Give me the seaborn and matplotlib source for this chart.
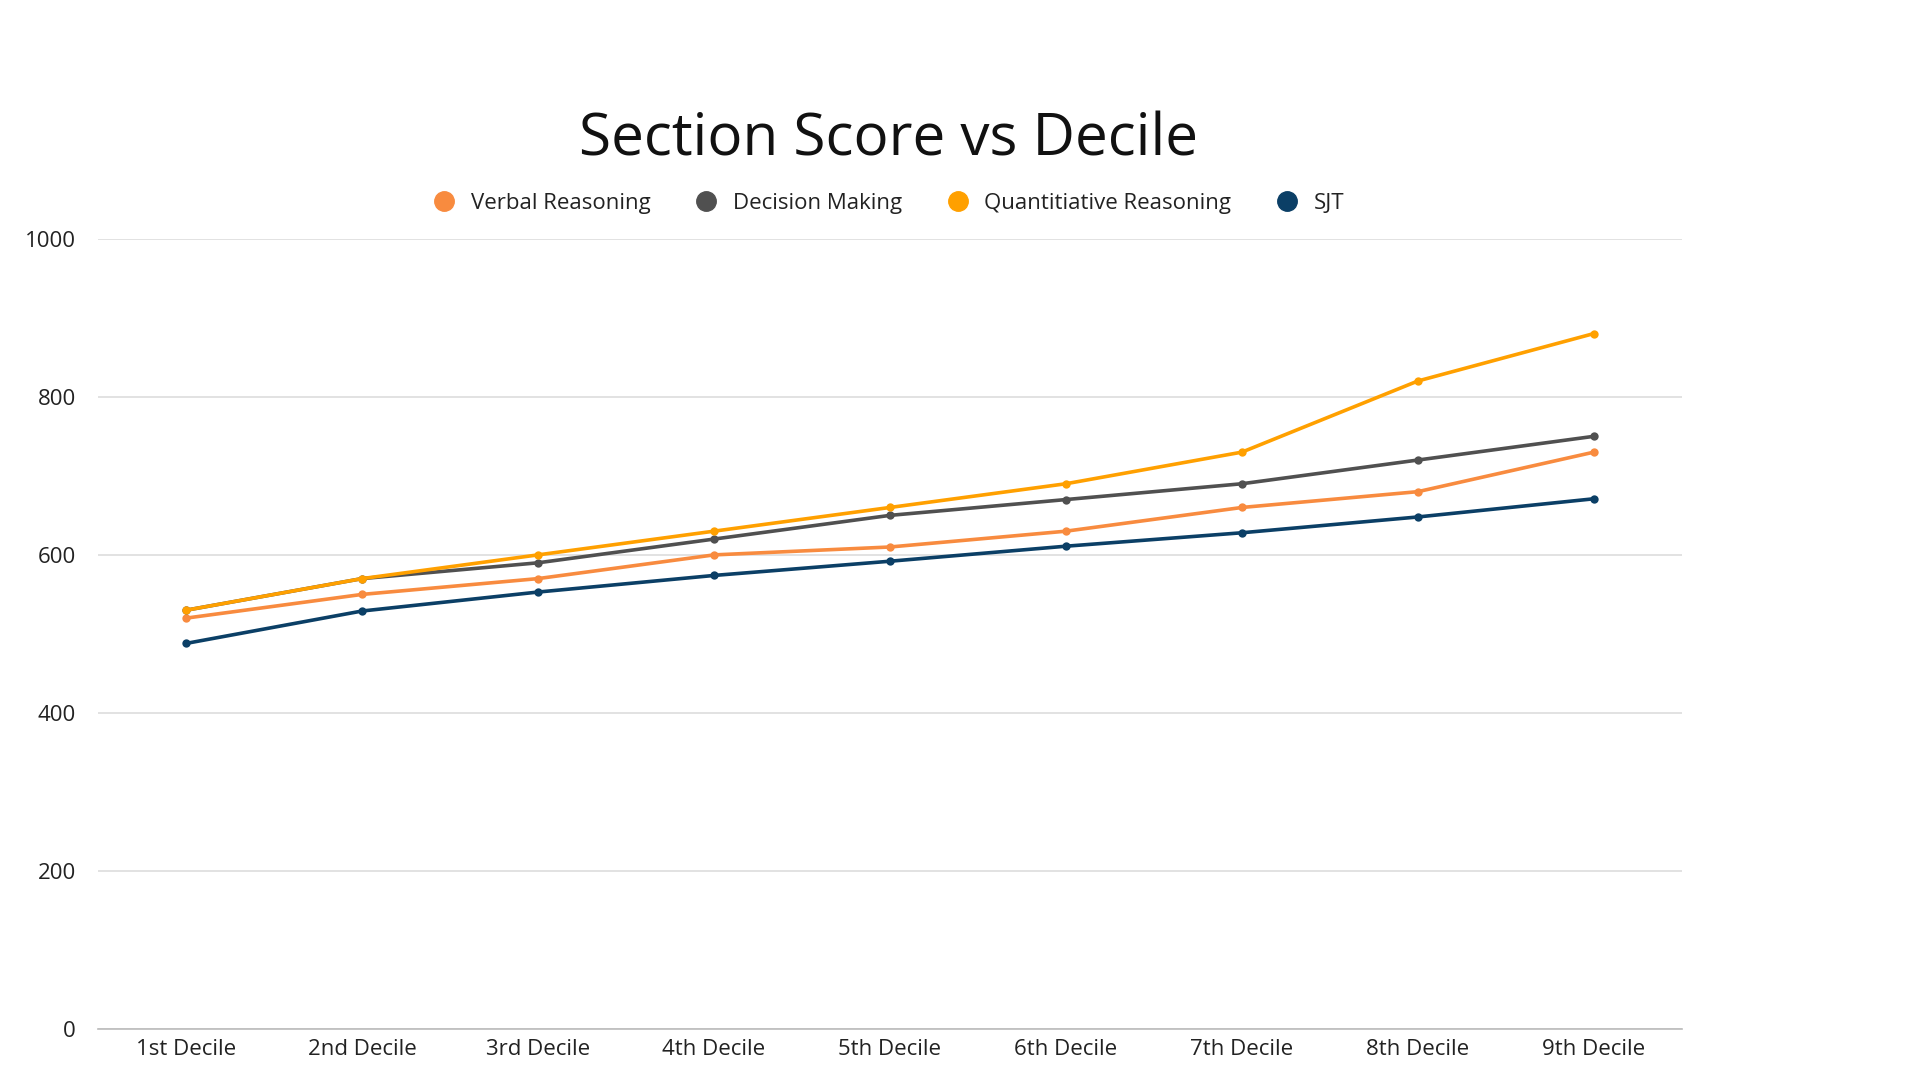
import numpy as np
import pandas as pd
import matplotlib.pyplot as plt
import seaborn as sns
from matplotlib.lines import Line2D

# Data
deciles = ["1st Decile", "2nd Decile", "3rd Decile", "4th Decile", "5th Decile",
           "6th Decile", "7th Decile", "8th Decile", "9th Decile"]
verbal = [520, 550, 570, 600, 610, 630, 660, 680, 730]
decision = [530, 570, 590, 620, 650, 670, 690, 720, 750]
quant = [530, 570, 600, 630, 660, 690, 730, 820, 880]
sjt = [488, 529, 553, 574, 592, 611, 628, 648, 671]

series = ["Verbal Reasoning", "Decision Making", "Quantitiative Reasoning", "SJT"]
colors = ["#F88B3F", "#505050", "#FFA000", "#0B3F66"]

df = pd.DataFrame({
    "Decile": deciles * 4,
    "Score": verbal + decision + quant + sjt,
    "Section": np.repeat(series, len(deciles)),
})

sns.set_theme(style="white")
plt.rcParams["font.family"] = ["Open Sans", "DejaVu Sans"]

fig = plt.figure(figsize=(19.2, 10.8), dpi=100)
ax = fig.add_axes([0.051, 0.047, 0.825, 0.732])

sns.lineplot(data=df, x="Decile", y="Score", hue="Section", palette=colors,
             marker="o", markersize=6, markeredgewidth=0, linewidth=2.6,
             sort=False, legend=False, ax=ax)

ax.set_ylim(0, 1000)
ax.set_xlim(-0.5, 8.5)
ax.set_yticks([0, 200, 400, 600, 800, 1000])
ax.yaxis.grid(True, color="#DDDDDD", linewidth=1.2)
ax.set_axisbelow(True)
for s in ["top", "right", "left"]:
    ax.spines[s].set_visible(False)
ax.spines["bottom"].set_color("#BBBBBB")
ax.spines["bottom"].set_linewidth(1.2)
ax.tick_params(axis="both", length=0, labelsize=16, colors="#222222")
ax.tick_params(axis="x", pad=7)
ax.tick_params(axis="y", pad=16)
ax.set_xlabel("")
ax.set_ylabel("")

fig.text(0.463, 0.870, "Section Score vs Decile", ha="center", va="center",
         fontsize=42, color="#111111")

handles = [Line2D([], [], linestyle="", marker="o", markersize=14, color=c) for c in colors]
fig.legend(handles, series, loc="center", bbox_to_anchor=(0.46, 0.812), ncol=4,
           frameon=False, fontsize=16, handletextpad=0.2, columnspacing=1.5,
           labelcolor="#222222")

fig.savefig("out.png", dpi=100, facecolor="white")
